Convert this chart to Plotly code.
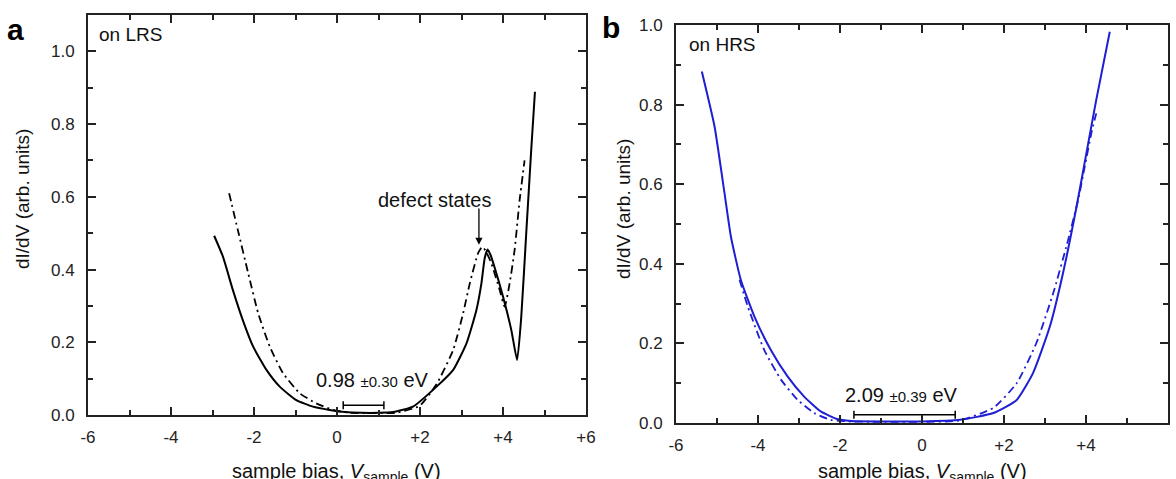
import plotly.graph_objects as go

# ---------------- data ----------------
lrs_solid_x = [-2.96, -2.75, -2.51, -2.27, -2.02, -1.70, -1.38, -0.98, -0.58, -0.18, 0.2, 0.6, 1.0, 1.35,
               1.83, 2.40, 2.80, 3.12, 3.36, 3.48, 3.56, 3.63, 3.70, 3.80, 4.00, 4.20, 4.34, 4.44, 4.56, 4.68, 4.77]
lrs_solid_y = [0.493, 0.436, 0.344, 0.261, 0.188, 0.124, 0.078, 0.041, 0.023, 0.014, 0.008, 0.006, 0.006, 0.008,
               0.023, 0.078, 0.124, 0.197, 0.289, 0.362, 0.432, 0.455, 0.44, 0.405, 0.326, 0.234, 0.151, 0.270, 0.50, 0.729, 0.889]

lrs_dash_x = [-2.60, -2.39, -2.14, -1.90, -1.62, -1.30, -0.90, -0.50, -0.10, 0.3, 0.8, 1.2, 1.43, 1.99,
              2.40, 2.80, 3.04, 3.20, 3.40, 3.50, 3.58, 3.72, 3.92, 4.04, 4.16, 4.28, 4.40, 4.52]
lrs_dash_y = [0.61, 0.509, 0.390, 0.280, 0.188, 0.115, 0.060, 0.032, 0.014, 0.006, 0.005, 0.005, 0.006, 0.025,
              0.085, 0.179, 0.280, 0.362, 0.445, 0.463, 0.452, 0.417, 0.344, 0.298, 0.362, 0.454, 0.59, 0.70]

hrs_solid_x = [-5.37, -5.06, -4.82, -4.66, -4.42, -4.09, -3.69, -3.28, -2.88, -2.47, -2.07, -1.74, -1.0, 0.0,
               0.93, 1.74, 2.31, 2.71, 3.12, 3.44, 3.77, 4.01, 4.25, 4.58]
hrs_solid_y = [0.883, 0.745, 0.58, 0.468, 0.360, 0.268, 0.184, 0.117, 0.067, 0.029, 0.010, 0.005, 0.004, 0.004,
               0.008, 0.025, 0.058, 0.126, 0.243, 0.377, 0.544, 0.678, 0.812, 0.983]

hrs_dash_x = [-4.45, -4.25, -3.85, -3.44, -3.04, -2.63, -2.23, -1.8, -1.0, 0.0, 0.9, 1.74, 2.31, 2.79,
              3.20, 3.52, 3.81, 3.97, 4.13, 4.25]
hrs_dash_y = [0.36, 0.293, 0.184, 0.109, 0.059, 0.025, 0.008, 0.004, 0.003, 0.003, 0.006, 0.038, 0.100, 0.201,
              0.326, 0.443, 0.561, 0.644, 0.728, 0.778]

lrs_gap = dict(center=0.64, half=0.49, y=0.027, label="0.98", err="±0.30")
hrs_gap = dict(center=-0.425, half=1.235, y=0.021, label="2.09", err="±0.39")

x_tickvals = [-6, -4, -2, 0, 2, 4, 6]
x_ticktext = ["-6", "-4", "-2", "0", "+2", "+4", "+6"]
x_minor = [-5, -3, -1, 1, 3, 5]
y_tickvals = [0.0, 0.2, 0.4, 0.6, 0.8, 1.0]
y_ticktext = ["0.0", "0.2", "0.4", "0.6", "0.8", "1.0"]
y_minor = [0.1, 0.3, 0.5, 0.7, 0.9]

# ---------------- style ----------------
FONT = "Liberation Sans, Arial, sans-serif"
BLUE = "#1e1ed2"
DASHDOT = "8px,4px,2px,4px"
W, H = 1176, 479

def px2paper_x(px):
    return px / W

def px2paper_y(py):
    return 1 - py / H

dom_xa = [88.0 / W, 586.0 / W]
dom_xb = [676.0 / W, 1168.0 / W]
dom_ya = [px2paper_y(415), px2paper_y(15)]
dom_yb = [px2paper_y(423), px2paper_y(25)]

fig = go.Figure()
fig.add_trace(go.Scatter(x=lrs_solid_x, y=lrs_solid_y, mode="lines", xaxis="x", yaxis="y",
                         line=dict(color="black", width=2, shape="spline", smoothing=0.5)))
fig.add_trace(go.Scatter(x=lrs_dash_x, y=lrs_dash_y, mode="lines", xaxis="x", yaxis="y",
                         line=dict(color="black", width=1.8, dash=DASHDOT, shape="spline", smoothing=0.5)))
fig.add_trace(go.Scatter(x=[lrs_gap["center"]], y=[lrs_gap["y"]], mode="markers", xaxis="x", yaxis="y",
                         marker=dict(size=1, color="rgba(0,0,0,0)"),
                         error_x=dict(type="data", array=[lrs_gap["half"]], color="black", thickness=1.5, width=4)))
fig.add_trace(go.Scatter(x=hrs_solid_x, y=hrs_solid_y, mode="lines", xaxis="x2", yaxis="y2",
                         line=dict(color=BLUE, width=2, shape="spline", smoothing=0.5)))
fig.add_trace(go.Scatter(x=hrs_dash_x, y=hrs_dash_y, mode="lines", xaxis="x2", yaxis="y2",
                         line=dict(color=BLUE, width=1.8, dash=DASHDOT, shape="spline", smoothing=0.5)))
fig.add_trace(go.Scatter(x=[hrs_gap["center"]], y=[hrs_gap["y"]], mode="markers", xaxis="x2", yaxis="y2",
                         marker=dict(size=1, color="rgba(0,0,0,0)"),
                         error_x=dict(type="data", array=[hrs_gap["half"]], color="black", thickness=1.5, width=4)))

tickfont = dict(family=FONT, size=17, color="#222")

common = dict(ticks="inside", ticklen=8, tickwidth=2, tickcolor="#222",
              showline=True, mirror="ticks", linewidth=2, linecolor="#222",
              showgrid=False, zeroline=False, tickfont=tickfont, automargin=False)

def minor(vals):
    return dict(tickmode="array", tickvals=vals, ticks="inside", ticklen=5, tickwidth=2, tickcolor="#222")

fig.update_layout(
    width=W, height=H, margin=dict(l=0, r=0, t=0, b=0),
    paper_bgcolor="white", plot_bgcolor="white", showlegend=False,
    font=dict(family=FONT, color="#222"),
    xaxis=dict(domain=dom_xa, range=[-6, 6], anchor="y", tickvals=x_tickvals, ticktext=x_ticktext,
               minor=minor(x_minor), ticklabelstandoff=6, **common),
    yaxis=dict(domain=dom_ya, range=[0, 1.1], anchor="x", tickvals=y_tickvals, ticktext=y_ticktext,
               minor=minor(y_minor), ticklabelstandoff=8, **common),
    xaxis2=dict(domain=dom_xb, range=[-6, 6], anchor="y2", tickvals=x_tickvals, ticktext=x_ticktext,
                minor=minor(x_minor), ticklabelstandoff=6, **common),
    yaxis2=dict(domain=dom_yb, range=[0, 1.0], anchor="x2", tickvals=y_tickvals, ticktext=y_ticktext,
                minor=minor(y_minor), ticklabelstandoff=8, **common),
)

ann = []
txt = dict(family=FONT, size=19, color="#111")
small = "font-size:15px"
ann.append(dict(text="<b>a</b>", xref="paper", yref="paper", x=px2paper_x(15), y=px2paper_y(30),
                xanchor="center", yanchor="middle", showarrow=False, font=dict(family=FONT, size=30, color="black")))
ann.append(dict(text="<b>b</b>", xref="paper", yref="paper", x=px2paper_x(611), y=px2paper_y(28),
                xanchor="center", yanchor="middle", showarrow=False, font=dict(family=FONT, size=30, color="black")))
ann.append(dict(text="on LRS", xref="x", yref="y", x=-5.78, y=1.045, xanchor="left", yanchor="middle",
                showarrow=False, font=txt))
ann.append(dict(text="on HRS", xref="x2", yref="y2", x=-5.72, y=0.95, xanchor="left", yanchor="middle",
                showarrow=False, font=txt))
ann.append(dict(text=f"{lrs_gap['label']} <span style='{small}'>{lrs_gap['err']}</span> eV",
                xref="x", yref="y", x=0.86, y=0.095, xanchor="center", yanchor="middle", showarrow=False,
                font=dict(family=FONT, size=20, color="#111")))
ann.append(dict(text=f"{hrs_gap['label']} <span style='{small}'>{hrs_gap['err']}</span> eV",
                xref="x2", yref="y2", x=-0.49, y=0.07, xanchor="center", yanchor="middle", showarrow=False,
                font=dict(family=FONT, size=20, color="#111")))
ann.append(dict(text="defect states", xref="x", yref="y", x=2.34, y=0.591, xanchor="center", yanchor="middle",
                showarrow=False, font=dict(family=FONT, size=20, color="#111")))
ann.append(dict(text="", xref="x", yref="y", x=3.42, y=0.468, ax=3.42, ay=0.572, axref="x", ayref="y",
                showarrow=True, arrowhead=2, arrowsize=1.1, arrowwidth=1.3, arrowcolor="black"))
xt = "sample bias, <i>V</i><sub>sample</sub> (V)"
ann.append(dict(text=xt, xref="paper", yref="paper", x=px2paper_x(336.5), y=px2paper_y(458),
                xanchor="center", yanchor="top", showarrow=False, font=dict(family=FONT, size=20, color="#111")))
ann.append(dict(text=xt, xref="paper", yref="paper", x=px2paper_x(922), y=px2paper_y(458),
                xanchor="center", yanchor="top", showarrow=False, font=dict(family=FONT, size=20, color="#111")))
yt = "dI/dV (arb. units)"
ann.append(dict(text=yt, xref="paper", yref="paper", x=px2paper_x(22), y=px2paper_y(199), textangle=-90,
                xanchor="center", yanchor="middle", showarrow=False, font=dict(family=FONT, size=19, color="#111")))
ann.append(dict(text=yt, xref="paper", yref="paper", x=px2paper_x(623), y=px2paper_y(209), textangle=-90,
                xanchor="center", yanchor="middle", showarrow=False, font=dict(family=FONT, size=19, color="#111")))
fig.update_layout(annotations=ann)

fig.write_html("out.html", config={"staticPlot": True})
